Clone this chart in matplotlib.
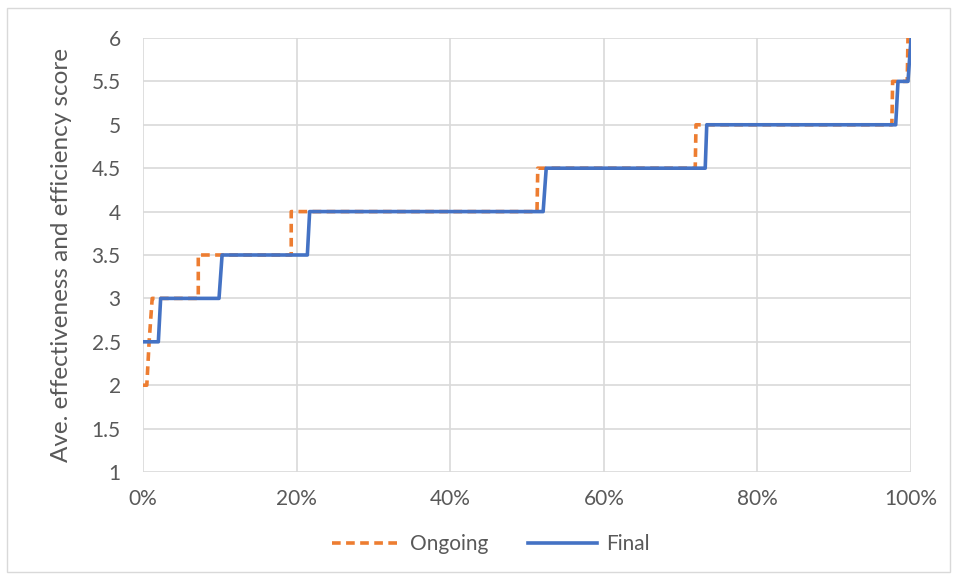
import matplotlib.pyplot as plt
from matplotlib.patches import Rectangle
from matplotlib.ticker import FuncFormatter

plt.rcParams['font.family'] = ['Lato', 'DejaVu Sans']

# share of cases (%) vs average score, corner points of each step
ongoing_x = [0, 0.5, 0.8, 1.2, 7.2, 7.2, 19.3, 19.3, 51.3, 51.4, 71.9, 72.0, 97.5, 97.6, 99.5, 99.6]
ongoing_y = [2, 2, 2.5, 3, 3, 3.5, 3.5, 4, 4, 4.5, 4.5, 5, 5, 5.5, 5.5, 6]
final_x = [0, 2.0, 2.3, 9.9, 10.3, 21.4, 21.7, 52.1, 52.5, 73.2, 73.4, 98.0, 98.3, 99.6, 100]
final_y = [2.5, 2.5, 3, 3, 3.5, 3.5, 4, 4, 4.5, 4.5, 5, 5, 5.5, 5.5, 6]

orange = '#ED7D31'
blue = '#4472C4'
txt = '#595959'

fig = plt.figure(figsize=(9.57, 5.79), dpi=100)
fig.patches.append(Rectangle((0.007, 0.012), 0.986, 0.975, transform=fig.transFigure,
                             fill=False, edgecolor='#D9D9D9', linewidth=1))
ax = fig.add_axes([0.1494, 0.1848, 0.8026, 0.7496])

ax.plot(ongoing_x, ongoing_y, color=orange, lw=2.6, dashes=(2.4, 1.5), label='Ongoing', zorder=3)
ax.plot(final_x, final_y, color=blue, lw=2.6, label='Final', zorder=4)

ax.set_xlim(0, 100)
ax.set_ylim(1, 6)
ax.set_xticks(range(0, 101, 20))
ax.set_yticks([1 + 0.5 * i for i in range(11)])
ax.xaxis.set_major_formatter(FuncFormatter(lambda v, p: f'{v:.0f}%'))
ax.yaxis.set_major_formatter(FuncFormatter(lambda v, p: f'{v:g}'))
ax.grid(True, color='#D9D9D9', lw=1.2)
ax.set_axisbelow(True)
for s in ax.spines.values():
    s.set_visible(False)
ax.tick_params(length=0, labelsize=15, labelcolor=txt)
ax.tick_params(axis='y', pad=16)
ax.tick_params(axis='x', pad=12)
ax.set_ylabel('Ave. effectiveness and efficiency score', fontsize=17.5, color=txt, labelpad=14)

leg = fig.legend(loc='center', bbox_to_anchor=(0.513, 0.06), ncol=2, frameon=False,
                 fontsize=15, labelcolor=txt, handlelength=3.3, columnspacing=1.9, handletextpad=0.45)

fig.savefig('out.png', dpi=100)
